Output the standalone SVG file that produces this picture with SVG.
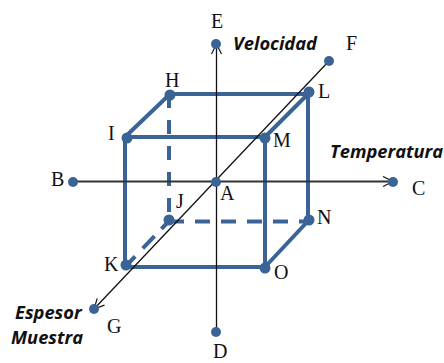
<svg xmlns="http://www.w3.org/2000/svg" width="444" height="363" viewBox="0 0 444 363">
<style>
.axis{stroke:#111;stroke-width:1.3;fill:none}
.axh{stroke:#333;stroke-width:1.8;fill:none}
.edge{stroke:#3a6496;stroke-width:4;fill:none}
.dash{stroke:#3a6496;stroke-width:4;fill:none}
.dot{fill:#3a6496;stroke:none}
text{font-family:"Liberation Serif",serif;font-size:20px;fill:#111}
.t{font-family:"Open Sans","Liberation Sans",sans-serif;font-size:18.300px;font-weight:700;font-style:italic;fill:#111}
</style>
<defs><marker id="a" markerWidth="14" markerHeight="14" refX="12" refY="6" orient="auto" markerUnits="userSpaceOnUse"><path d="M2 1L12 6L2 11" fill="none" stroke="#111" stroke-width="1.2"/></marker></defs>
<g id="connectors">
<path class="edge" d="M125 137H265V267H125ZM125 137L170 94H308V221L265 267M265 137L308 94"/>
<path class="dash" stroke-dasharray="14 12" d="M169 94V221"/>
<path class="dash" stroke-dasharray="15 11" d="M169 221.500H308"/>
<path class="dash" stroke-dasharray="11 10 17 11 14" d="M169 221L127 265"/>
<path class="axh" d="M73 181.500H393" marker-end="url(#a)"/>
<path class="axis" d="M216.500 332V44" marker-end="url(#a)"/>
<path class="axis" d="M329 61L94 309" marker-end="url(#a)"/>
</g>
<g id="A"><circle class="dot" cx="216" cy="182" r="5"/><text x="220" y="200">A</text></g>
<g id="B"><circle class="dot" cx="73" cy="182" r="5"/><text x="51" y="186">B</text></g>
<g id="C"><circle class="dot" cx="393" cy="182" r="5"/><text x="412" y="195">C</text></g>
<g id="D"><circle class="dot" cx="216" cy="332" r="5"/><text x="213" y="358">D</text></g>
<g id="E"><circle class="dot" cx="216" cy="44" r="5"/><text x="211" y="28">E</text></g>
<g id="F"><circle class="dot" cx="329" cy="61" r="5"/><text x="346" y="50">F</text></g>
<g id="G"><circle class="dot" cx="94" cy="309" r="5"/><text x="107" y="333">G</text></g>
<g id="H"><circle class="dot" cx="170" cy="95" r="5.500"/><text x="165" y="87">H</text></g>
<g id="I"><circle class="dot" cx="127" cy="138" r="5.500"/><text x="108" y="140">I</text></g>
<g id="J"><circle class="dot" cx="169" cy="220" r="5.500"/><text x="176" y="208">J</text></g>
<g id="K"><circle class="dot" cx="126" cy="265" r="5.500"/><text x="104" y="271">K</text></g>
<g id="L"><circle class="dot" cx="309" cy="92" r="5.500"/><text x="318" y="98">L</text></g>
<g id="M"><circle class="dot" cx="265" cy="138" r="5.500"/><text x="273" y="147">M</text></g>
<g id="N"><circle class="dot" cx="309" cy="220" r="5.500"/><text x="317" y="224">N</text></g>
<g id="O"><circle class="dot" cx="265" cy="268" r="5.500"/><text x="274" y="279">O</text></g>
<g id="labels">
<text class="t" x="233" y="50">Velocidad</text>
<text class="t" x="330" y="158">Temperatura</text>
<text class="t" x="15" y="319">Espesor</text>
<text class="t" x="11" y="344">Muestra</text>
</g>
</svg>
